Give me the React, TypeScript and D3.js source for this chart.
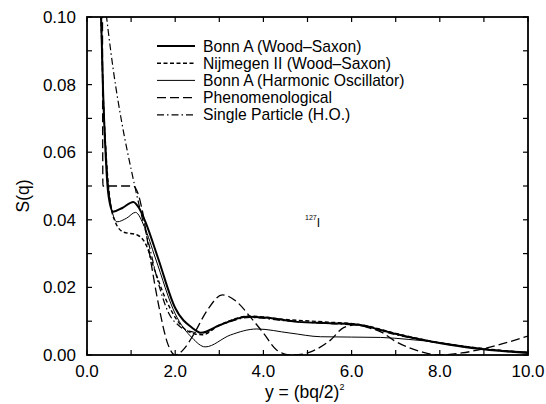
import { useMemo } from "react";
import * as d3 from "d3";

const WIDTH = 546;
const HEIGHT = 404;

// [y, S(q)]
const bonnWS: [number, number][] = [
  [0.3, 0.11], [0.36, 0.08], [0.42, 0.06], [0.48, 0.048], [0.59, 0.0424],
  [0.8, 0.0435], [1.05, 0.0453], [1.18, 0.0435], [1.32, 0.0395], [1.61, 0.0287],
  [2.0, 0.0139], [2.39, 0.008], [2.58, 0.0066], [3.02, 0.0089], [3.64, 0.0113],
  [4.09, 0.011], [4.77, 0.0098], [5.52, 0.0094], [6.2, 0.0089], [6.66, 0.0074],
  [7.27, 0.0054], [8.02, 0.0035], [8.77, 0.002], [10.0, 0.0006],
];
const nijmegen: [number, number][] = [
  [0.3, 0.11], [0.36, 0.08], [0.44, 0.058], [0.52, 0.046], [0.64, 0.0394],
  [0.82, 0.0364], [1.14, 0.0355], [1.36, 0.032], [1.5, 0.0265], [1.77, 0.017],
  [2.07, 0.0098], [2.45, 0.0062], [2.62, 0.006], [3.0, 0.0088], [3.7, 0.0115],
  [4.5, 0.0105], [5.5, 0.0097], [6.2, 0.009], [7.0, 0.0064], [8.0, 0.0036],
  [9.0, 0.0019], [10.0, 0.0007],
];
const bonnHO: [number, number][] = [
  [0.3, 0.11], [0.36, 0.08], [0.43, 0.06], [0.52, 0.046], [0.68, 0.0394],
  [0.9, 0.0405], [1.1, 0.0422], [1.3, 0.038], [1.55, 0.0287], [2.0, 0.0122],
  [2.39, 0.005], [2.68, 0.0024], [3.25, 0.0059], [3.85, 0.0077], [4.6, 0.0065],
  [5.3, 0.0054], [6.0, 0.0053], [6.66, 0.0052], [7.3, 0.0046], [8.0, 0.0037],
  [8.93, 0.0019], [10.0, 0.0009],
];
const phenom: [number, number][] = [
  [0.35, 0.11], [0.36, 0.05], [1.05, 0.05], [1.15, 0.048], [1.25, 0.043],
  [1.43, 0.029], [1.61, 0.0157], [1.84, 0.003], [2.0, 0.0], [2.2, 0.0018],
  [2.41, 0.0059], [2.73, 0.0133], [3.07, 0.0178], [3.4, 0.0157], [3.7, 0.0113],
  [4.0, 0.0065], [4.3, 0.0015], [4.62, 0.0], [4.9, 0.0003], [5.14, 0.0013],
  [5.52, 0.0044], [5.82, 0.0081], [6.1, 0.0089], [6.4, 0.008], [6.7, 0.0066],
  [6.95, 0.0044], [7.57, 0.001], [7.95, 0.0], [8.5, 0.0006], [9.16, 0.0024],
  [10.0, 0.0056],
];
const singleHO: [number, number][] = [
  [0.4, 0.105], [0.48, 0.096], [0.6, 0.084], [0.8, 0.068], [1.0, 0.055],
  [1.1, 0.049], [1.25, 0.0406], [1.39, 0.0335], [1.61, 0.0216], [1.84, 0.0127],
  [2.1, 0.0085], [2.4, 0.0068], [2.6, 0.0065], [3.0, 0.0087], [3.7, 0.0111],
  [4.5, 0.0101], [5.5, 0.0093], [6.2, 0.0087], [7.0, 0.006], [8.0, 0.0035],
  [9.0, 0.0017], [10.0, 0.0006],
];

const xTicks = [0, 2, 4, 6, 8, 10];
const xMinor = [1, 3, 5, 7, 9];
const yTicks = [0, 0.02, 0.04, 0.06, 0.08, 0.1];
const yMinor = [0.01, 0.03, 0.05, 0.07, 0.09];

const series = [
  { name: "Bonn A (Wood\u2013Saxon)", data: bonnWS, width: 2, dash: "" },
  { name: "Nijmegen II (Wood\u2013Saxon)", data: nijmegen, width: 1.4, dash: "4,2.5" },
  { name: "Bonn A (Harmonic Oscillator)", data: bonnHO, width: 1, dash: "" },
  { name: "Phenomenological", data: phenom, width: 1.3, dash: "9,4" },
  { name: "Single Particle (H.O.)", data: singleHO, width: 1.2, dash: "7,3,1.5,3" },
];

const FONT = "'Liberation Sans', Arial, Helvetica, sans-serif";

export default function App() {
  const x = d3.scaleLinear().domain([0, 10]).range([87, 528]);
  const y = d3.scaleLinear().domain([0, 0.1]).range([355, 17]);

  const line = useMemo(
    () =>
      d3
        .line<[number, number]>()
        .x((d) => x(d[0]))
        .y((d) => y(d[1]))
        .curve(d3.curveMonotoneX),
    []
  );

  const tick = 5;

  return (
    <svg
      width={WIDTH}
      height={HEIGHT}
      style={{ position: "absolute", left: 0, top: 0, background: "#fff" }}
      fontFamily={FONT}
    >
      <defs>
        <clipPath id="plot">
          <rect x={x(0)} y={y(0.1)} width={x(10) - x(0)} height={y(0) - y(0.1)} />
        </clipPath>
      </defs>

      <g clipPath="url(#plot)" fill="none" stroke="#000">
        {series.map((s) => (
          <path
            key={s.name}
            d={line(s.data) || ""}
            strokeWidth={s.width}
            strokeDasharray={s.dash}
          />
        ))}
      </g>

      {/* frame */}
      <rect
        x={x(0)}
        y={y(0.1)}
        width={x(10) - x(0)}
        height={y(0) - y(0.1)}
        fill="none"
        stroke="#000"
        strokeWidth={1.8}
      />

      {/* ticks, inward on all four sides */}
      <g stroke="#000" strokeWidth={1.2}>
        {[...xTicks, ...xMinor].map((v) => (
          <g key={"x" + v}>
            <line x1={x(v)} x2={x(v)} y1={y(0)} y2={y(0) - tick} />
            <line x1={x(v)} x2={x(v)} y1={y(0.1)} y2={y(0.1) + tick} />
          </g>
        ))}
        {[...yTicks, ...yMinor].map((v) => (
          <g key={"y" + v}>
            <line x1={x(0)} x2={x(0) + tick} y1={y(v)} y2={y(v)} />
            <line x1={x(10)} x2={x(10) - tick} y1={y(v)} y2={y(v)} />
          </g>
        ))}
      </g>

      {/* tick labels */}
      <g fontSize={17} fill="#000">
        {xTicks.map((v) => (
          <text key={"xl" + v} x={x(v)} y={377} textAnchor="middle">
            {d3.format(".1f")(v)}
          </text>
        ))}
        {yTicks.map((v) => (
          <text key={"yl" + v} x={76} y={y(v) + 6} textAnchor="end">
            {d3.format(".2f")(v)}
          </text>
        ))}
      </g>

      {/* axis titles */}
      <text
        x={29}
        y={196}
        fontSize={17.5}
        textAnchor="middle"
        transform="rotate(-90 29 196)"
      >
        S(q)
      </text>
      <text x={265} y={398} fontSize={17.5}>
        y = (bq/2)
        <tspan fontSize={9} dy={-8}>
          2
        </tspan>
      </text>

      {/* nucleus label */}
      <text x={305} y={227} fontSize={12}>
        <tspan fontSize={7} dy={-7}>
          127
        </tspan>
        <tspan dy={7}>I</tspan>
      </text>

      {/* legend */}
      <g>
        {series.map((s, i) => {
          const ly = 46 + i * 17.2;
          return (
            <g key={"lg" + s.name}>
              <line
                x1={157}
                x2={195}
                y1={ly}
                y2={ly}
                stroke="#000"
                strokeWidth={s.width}
                strokeDasharray={s.dash}
              />
              <text x={203} y={ly + 5.5} fontSize={15.7}>
                {s.name}
              </text>
            </g>
          );
        })}
      </g>
    </svg>
  );
}
